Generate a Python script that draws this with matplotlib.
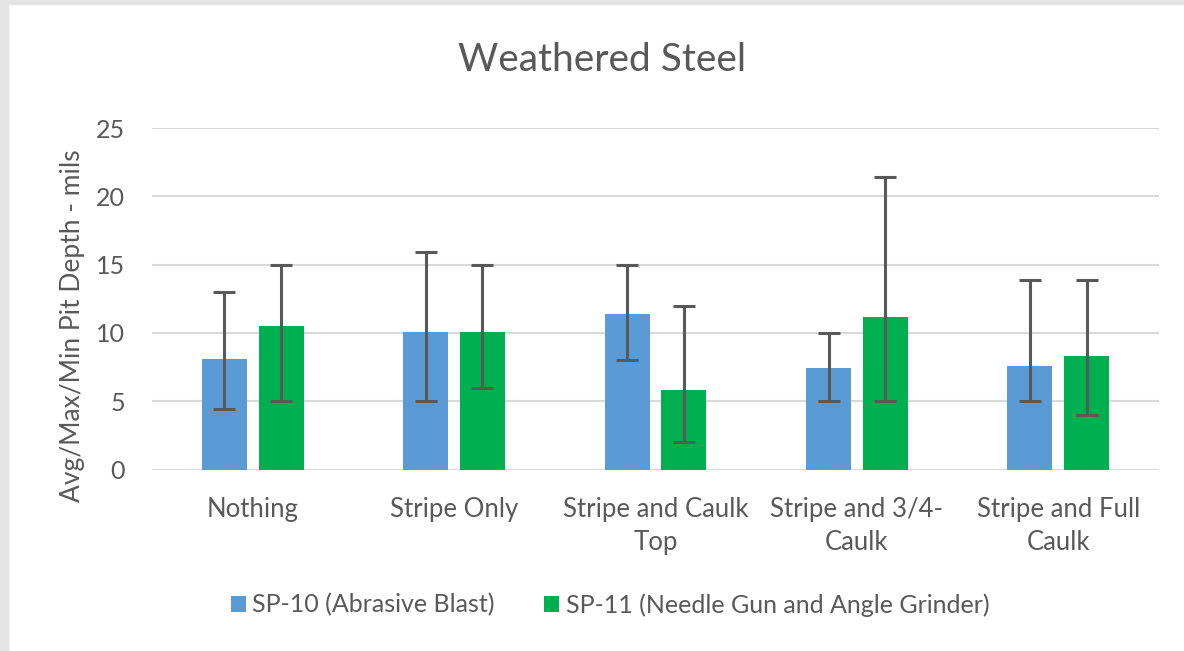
import matplotlib
matplotlib.use("Agg")
import matplotlib.pyplot as plt
import numpy as np
from matplotlib.patches import Rectangle

categories = ["Nothing", "Stripe Only", "Stripe and Caulk\nTop", "Stripe and 3/4-\nCaulk", "Stripe and Full\nCaulk"]
series_names = ["SP-10 (Abrasive Blast)", "SP-11 (Needle Gun and Angle Grinder)"]
sp10_avg = [8.1, 10.05, 11.4, 7.4, 7.6]
sp10_max = [13.0, 15.9, 15.0, 10.0, 13.9]
sp10_min = [4.4, 5.0, 8.0, 5.0, 5.0]
sp11_avg = [10.5, 10.05, 5.8, 11.15, 8.3]
sp11_max = [15.0, 15.0, 12.0, 21.4, 13.9]
sp11_min = [5.0, 6.0, 2.0, 5.0, 4.0]
yticks = [0, 5, 10, 15, 20, 25]

plt.rcParams['font.family'] = ['Lato', 'DejaVu Sans']
TXT = '#595959'

fig = plt.figure(figsize=(11.84, 6.51), dpi=100)
# frame strips (screenshot border)
fig.patches.append(Rectangle((0, 0), 8/1184, 1, transform=fig.transFigure, color='#e4e4e4', zorder=0))
fig.patches.append(Rectangle((0, 1 - 4/651), 1, 4/651, transform=fig.transFigure, color='#e4e4e4', zorder=0))

ax = fig.add_axes([152/1184, 1 - 469.5/651, (1159 - 152)/1184, (469.5 - 128)/651])
x = np.arange(len(categories))
w = 0.223
off = 0.141
c1, c2 = '#5B9BD5', '#00B050'
ecol = '#595959'

def draw(xpos, avg, mx, mn, color, label):
    avg = np.array(avg); mx = np.array(mx); mn = np.array(mn)
    ax.bar(xpos, avg, w, color=color, label=label, zorder=2)
    ax.errorbar(xpos, avg, yerr=[avg - mn, mx - avg], fmt='none', ecolor=ecol,
                elinewidth=2.2, capsize=8, capthick=2.2, zorder=3)

draw(x - off, sp10_avg, sp10_max, sp10_min, c1, series_names[0])
draw(x + off, sp11_avg, sp11_max, sp11_min, c2, series_names[1])

ax.set_xlim(-0.5, len(categories) - 0.5)
ax.set_ylim(0, 25)
ax.set_yticks(yticks)
ax.yaxis.grid(True, color='#d9d9d9', linewidth=1.5, zorder=0)
ax.set_axisbelow(True)
for s in ax.spines.values():
    s.set_visible(False)
ax.tick_params(axis='y', length=0, colors=TXT, labelsize=18, pad=19.5)
ax.tick_params(axis='x', length=0, colors=TXT, labelsize=18.5, pad=20)
ax.set_xticks(x)
ax.set_xticklabels(categories, linespacing=1.4)
ax.set_ylabel("Avg/Max/Min Pit Depth - mils", fontsize=19, color=TXT, labelpad=8)
ax.yaxis.label.set_position((0, (469.5 - 326) / (469.5 - 128)))

fig.text(602/1184, 1 - 60/651, "Weathered Steel", ha='center', va='center', fontsize=28, color=TXT)

leg = fig.legend(loc='center', bbox_to_anchor=(610/1184, 1 - 605/651), ncol=2, frameon=False,
                 fontsize=18, handlelength=0.6, handleheight=0.6, handletextpad=0.25,
                 columnspacing=2.0)
for t in leg.get_texts():
    t.set_color(TXT)

fig.savefig("out.png", dpi=100, facecolor='white')
